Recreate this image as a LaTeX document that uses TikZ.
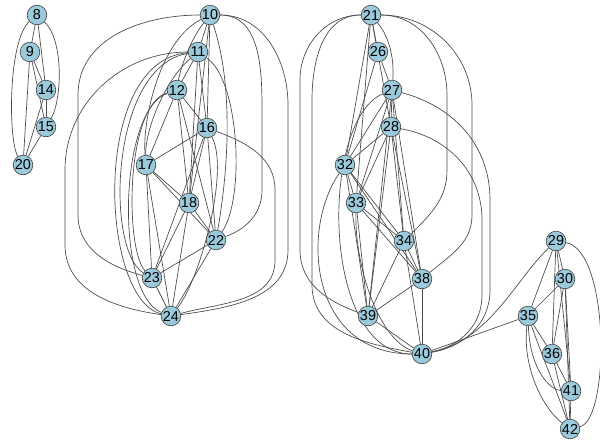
\documentclass[tikz,border=0pt]{standalone}
\usepackage{fontspec}
\setmainfont{Liberation Sans}
\usetikzlibrary{backgrounds}
\definecolor{nodeblue}{RGB}{155,202,220}
\definecolor{edgegray}{RGB}{75,75,75}
\begin{document}
\begin{tikzpicture}[x=0.5pt,y=-0.5pt,
  vtx/.style={circle,draw=black!75,line width=0.3pt,fill=nodeblue,inner sep=0pt,minimum size=9.8pt,font=\fontsize{7.2}{8}\selectfont},
  edg/.style={draw=edgegray,line width=0.34pt}]
\useasboundingbox (0,0) rectangle (600,440);
% nodes
\node[vtx] (n8) at (37,15) {8};
\node[vtx] (n9) at (30,52) {9};
\node[vtx] (n14) at (46,90) {14};
\node[vtx] (n15) at (46,127) {15};
\node[vtx] (n20) at (23,165) {20};
\node[vtx] (n10) at (210,15) {10};
\node[vtx] (n11) at (198,52) {11};
\node[vtx] (n12) at (177,90) {12};
\node[vtx] (n16) at (207,128) {16};
\node[vtx] (n17) at (146,165) {17};
\node[vtx] (n18) at (189,203) {18};
\node[vtx] (n22) at (216,240) {22};
\node[vtx] (n23) at (152,278) {23};
\node[vtx] (n24) at (171,316) {24};
\node[vtx] (n21) at (371,15) {21};
\node[vtx] (n26) at (378,52) {26};
\node[vtx] (n27) at (392,90) {27};
\node[vtx] (n28) at (391,127) {28};
\node[vtx] (n32) at (345,165) {32};
\node[vtx] (n33) at (356,203) {33};
\node[vtx] (n34) at (404,241) {34};
\node[vtx] (n38) at (422,279) {38};
\node[vtx] (n39) at (368,316) {39};
\node[vtx] (n40) at (422,354) {40};
\node[vtx] (n29) at (556,241) {29};
\node[vtx] (n30) at (565,279) {30};
\node[vtx] (n35) at (528,316) {35};
\node[vtx] (n36) at (552,354) {36};
\node[vtx] (n41) at (571,391) {41};
\node[vtx] (n42) at (570,429) {42};
\begin{pgfonlayer}{background}
\fill[white] (0,0) rectangle (600,440);
% group 1
\foreach \a/\b in {8/9,8/14,9/14,9/15,9/20,14/15,14/20,15/20}
  \draw[edg] (n\a) -- (n\b);
\draw[edg] (n8) .. controls (8,40) and (8,140) .. (n20);
\draw[edg] (n8) .. controls (64,40) and (62,100) .. (n15);
% group 2
\foreach \a/\b in {10/11,10/16,10/18,11/12,11/16,11/18,12/16,12/17,12/18,12/22,
  16/17,16/18,16/22,16/23,17/18,17/22,17/23,17/24,18/22,18/23,18/24,22/23,22/24,23/24}
  \draw[edg] (n\a) -- (n\b);
\draw[edg] (n10) .. controls (190,40) and (180,70) .. (n12);
\draw[edg] (n10) .. controls (160,40) and (142,120) .. (n17);
\draw[edg] (n11) .. controls (165,80) and (145,130) .. (n17);
\draw[edg] (n10) .. controls (232,80) and (230,160) .. (n22);
\draw[edg] (n11) .. controls (240,80) and (245,200) .. (n22);
\draw[edg] (n10) to[out=0,in=90] (262,110) -- (262,190) to[out=270,in=20] (n22);
\draw[edg] (n10) to[out=180,in=90] (78,95) -- (78,215) to[out=270,in=165] (n23);
\draw[edg] (n11) to[out=180,in=90] (65,170) -- (65,245) to[out=270,in=172] (n24);
\draw[edg] (n10) to[out=0,in=90] (288,105) -- (288,250) to[out=270,in=8] (n24);
\draw[edg] (n16) to[out=-20,in=90] (275,190) -- (275,260) to[out=270,in=15] (n24);
\draw[edg] (n11) .. controls (110,65) and (105,250) .. (n23);
\draw[edg] (n12) .. controls (125,105) and (125,250) .. (n23);
\draw[edg] (n12) .. controls (118,110) and (115,295) .. (n24);
\draw[edg] (n11) .. controls (90,60) and (100,300) .. (n24);
\draw[edg] (n16) .. controls (230,170) and (200,280) .. (n24);
% group 3
\foreach \a/\b in {21/26,21/28,21/32,21/33,26/27,26/32,27/28,27/32,27/33,27/34,27/38,27/39,
  28/32,28/33,28/34,28/38,28/39,32/33,32/34,32/38,32/39,33/34,33/38,33/39,
  34/38,34/39,34/40,38/39,38/40,39/40}
  \draw[edg] (n\a) -- (n\b);
\draw[edg] (n21) .. controls (392,40) and (394,65) .. (n27);
\draw[edg] (n21) to[out=0,in=90] (447,95) -- (447,170) to[out=270,in=45] (n34);
\draw[edg] (n21) to[out=0,in=90] (472,105) -- (472,215) to[out=270,in=40] (n38);
\draw[edg] (n21) to[out=180,in=90] (300,80) -- (300,250) to[out=270,in=160] (n39);
\draw[edg] (n21) to[out=180,in=90] (312,100) -- (312,285) to[out=270,in=170] (n40);
\draw[edg] (n32) .. controls (300,230) and (310,354) .. (n40);
\draw[edg] (n27) .. controls (320,120) and (320,354) .. (n40);
\draw[edg] (n27) to[out=-15,in=90] (490,200) -- (490,290) to[out=270,in=10] (n40);
\draw[edg] (n28) to[out=-10,in=90] (482,220) -- (482,295) to[out=270,in=12] (n40);
\draw[edg] (n33) .. controls (355,270) and (380,340) .. (n40);
% group 4
\foreach \a/\b in {29/30,29/35,29/36,29/41,30/35,30/36,30/41,30/42,35/36,36/41,36/42,41/42}
  \draw[edg] (n\a) -- (n\b);
\draw[edg] (n29) .. controls (610,250) and (610,420) .. (n42);
\draw[edg] (n35) .. controls (530,370) and (550,390) .. (n41);
\draw[edg] (n35) .. controls (522,370) and (545,410) .. (n42);
\draw[edg] (n35) .. controls (540,350) and (560,400) .. (n42);
\draw[edg] (n40) -- (n35);
\draw[edg] (n29) .. controls (515,280) and (490,340) .. (n40);
\end{pgfonlayer}
\end{tikzpicture}
\end{document}
